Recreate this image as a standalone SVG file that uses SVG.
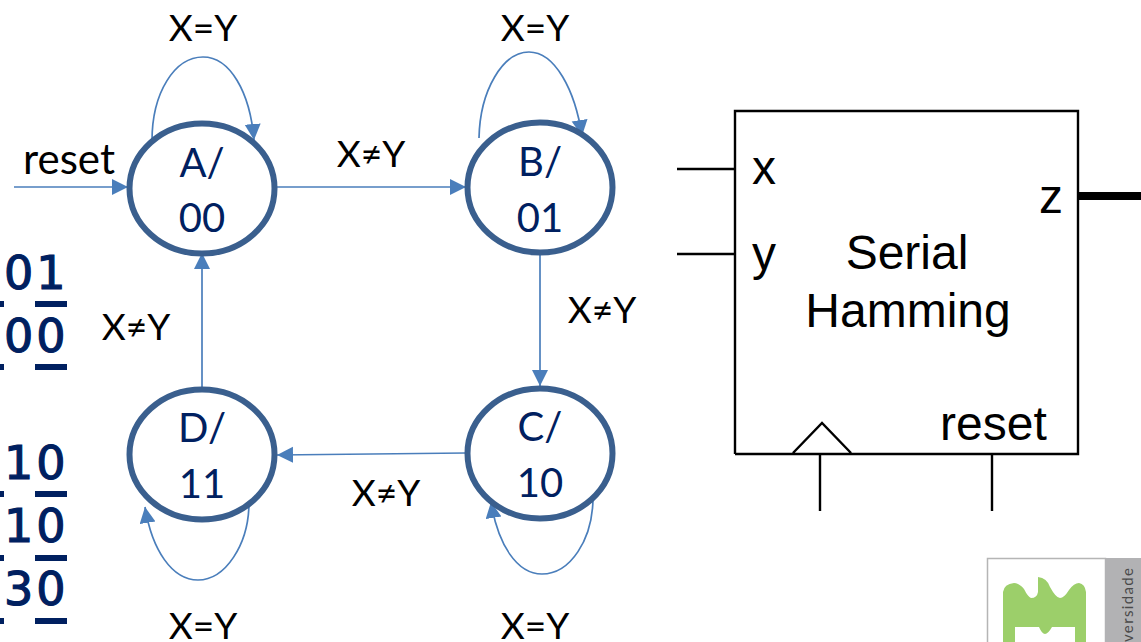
<svg xmlns="http://www.w3.org/2000/svg" width="1141" height="642" viewBox="0 0 1141 642">
<style>
text{font-family:"Lato","Open Sans",sans-serif}
.st{fill:#fff;stroke:#3a5f8e;stroke-width:6}
.nt{font-size:40px;fill:#002060;text-anchor:middle}
.lb{font-size:37px;fill:#000;text-anchor:middle}
.ar{font-family:"Liberation Sans",Arial,sans-serif;font-size:48px;fill:#000}
.c{fill:none;stroke:#4a7ebb;stroke-width:1.7;marker-end:url(#ah)}
.k{fill:none;stroke:#000;stroke-width:2.4}
.m{font-family:"DejaVu Sans",sans-serif;font-size:46px;fill:#002060;stroke:#002060;stroke-width:1.2;letter-spacing:3px}
.u{fill:#002060}
</style>
<defs>
<marker id="ah" markerUnits="userSpaceOnUse" markerWidth="18" markerHeight="18" refX="16" refY="8" orient="auto"><path d="M0 0L16 8L0 16Z" fill="#4a7ebb"/></marker>
</defs>
<g id="connectors">
<path class="c" d="M14 187H128"/>
<path class="c" d="M277 187H466"/>
<path class="c" d="M540 253V386"/>
<path class="c" d="M466 453L277 455"/>
<path class="c" d="M202 387V253"/>
<path class="c" d="M152 141C152 92 175 57 203 57C230 57 250 92 254 140"/>
<path class="c" d="M479 138C480 90 503 52 529 52C555 52 575 90 582 136"/>
<path class="c" d="M249 502C249 545 225 580 198 580C172 580 152 550 145 507"/>
<path class="c" d="M593 497C593 540 570 574 542 574C517 574 498 545 491 502"/>
</g>
<g id="node-A"><ellipse class="st" cx="202" cy="188.500" rx="72.500" ry="65"/><text class="nt" x="202" y="177">A/</text><text class="nt" x="202" y="232">00</text></g>
<g id="node-B"><ellipse class="st" cx="540" cy="187.500" rx="72.500" ry="65"/><text class="nt" x="540" y="176">B/</text><text class="nt" x="540" y="232">01</text></g>
<g id="node-C"><ellipse class="st" cx="540" cy="453.500" rx="72.500" ry="65"/><text class="nt" x="540" y="441">C/</text><text class="nt" x="540" y="497">10</text></g>
<g id="node-D"><ellipse class="st" cx="202" cy="454.500" rx="72.500" ry="65"/><text class="nt" x="202" y="442">D/</text><text class="nt" x="202" y="498">11</text></g>
<g id="labels">
<text class="lb" x="203" y="41">X=Y</text>
<text class="lb" x="535" y="41">X=Y</text>
<text class="lb" x="371" y="167">X≠Y</text>
<text class="lb" x="602" y="323">X≠Y</text>
<text class="lb" x="136" y="340">X≠Y</text>
<text class="lb" x="386" y="506">X≠Y</text>
<text class="lb" x="203" y="639">X=Y</text>
<text class="lb" x="535" y="639">X=Y</text>
<text class="lb" x="69" y="174" style="font-size:42px">reset</text>
</g>
<g id="serial-hamming">
<path class="k" d="M735 454V111H1078V454H735M677 169H735M677 254H735M793 453L822 423L851 453M820 454V511M992 454V511"/>
<path d="M1078 196H1141" fill="none" stroke="#000" stroke-width="8"/>
<text class="ar" x="752" y="184">x</text>
<text class="ar" x="752" y="270">y</text>
<text class="ar" x="1039" y="213">z</text>
<text class="ar" x="907" y="269" text-anchor="middle">Serial</text>
<text class="ar" x="908" y="327" text-anchor="middle">Hamming</text>
<text class="ar" x="940" y="440">reset</text>
</g>
<g id="digits">
<text class="m" x="4" y="289">01</text>
<text class="m" x="4" y="352">00</text>
<text class="m" x="4" y="479">10</text>
<text class="m" x="4" y="542">10</text>
<text class="m" x="4" y="605">30</text>
<path class="u" d="M0 301h4v6h-4zM35 301h32v6h-32zM0 364h4v6h-4zM35 364h32v6h-32zM0 491h4v6h-4zM35 491h32v6h-32zM0 555h4v6h-4zM35 555h32v6h-32zM0 618h4v6h-4zM35 618h32v6h-32z"/>
</g>
<g id="logo">
<rect x="987.500" y="558.500" width="118" height="90" fill="#fff" stroke="#b5b5b5" stroke-width="1.500"/>
<rect x="1105" y="558" width="36" height="84" fill="#b2b2b4"/>
<path fill="#9ccf6a" d="M1003 592Q1004 584 1014 583Q1019 583 1024 589Q1028 597 1031 598Q1037 598 1038 592V577Q1047 578 1050 587Q1056 598 1060 598Q1064 598 1069 590Q1074 583 1079 583Q1085 584 1086 592V642H1075V627H1052Q1048 634 1045 634Q1042 634 1039 627H1015V642H1003Z"/>
<text transform="translate(1133 642) rotate(-90)" font-family="'Open Sans',sans-serif" font-size="15" fill="#4a4a4a" textLength="74">versidade</text>
</g>
</svg>
